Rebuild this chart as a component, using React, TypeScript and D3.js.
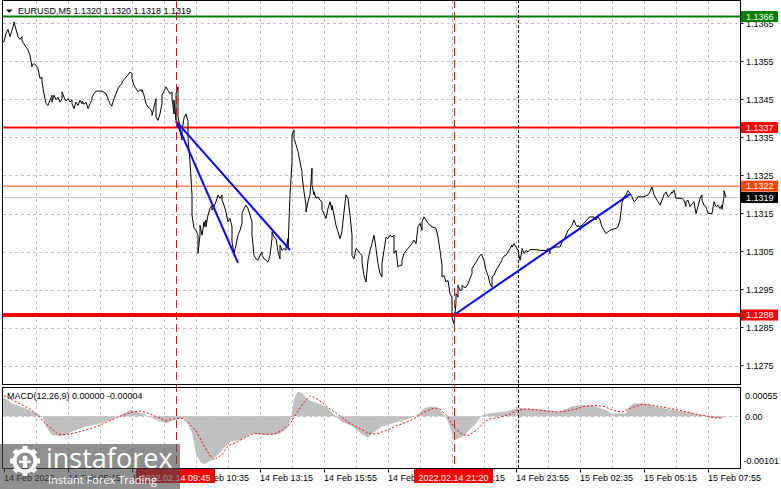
import React from 'react';
import * as d3 from 'd3';

// ---------- DATA ----------
const symbolTitle = 'EURUSD,M5  1.1320 1.1320 1.1318 1.1319';
const macdTitle = 'MACD(12,26,9) 0.00000 -0.00004';

// close price samples: [bar index, price]
const closeSeries: [number, number][] = [
  [0,1.13602],[1,1.13602],[2,1.13624],[3,1.13634],[4,1.13615],[5,1.13632],[6,1.13650],[6,1.13654],[7,1.13634],[8,1.13615],[9,1.13608],[10,1.13615],[10,1.13604],[12,1.13588],[13,1.13580],[14,1.13566],[15,1.13536],[15,1.13540],[16,1.13544],[17,1.13540],[18,1.13531],[19,1.13505],[20,1.13509],[20,1.13496],[21,1.13465],[22,1.13439],[23,1.13434],[24,1.13448],[25,1.13461],[25,1.13443],[26,1.13461],[27,1.13449],[28,1.13456],[29,1.13443],[30,1.13452],[30,1.13470],[31,1.13456],[32,1.13446],[33,1.13452],[34,1.13443],[35,1.13449],[35,1.13439],[36,1.13426],[37,1.13443],[38,1.13434],[39,1.13448],[40,1.13439],[40,1.13446],[41,1.13437],[42,1.13443],[43,1.13426],[44,1.13439],[45,1.13449],[45,1.13456],[46,1.13465],[47,1.13472],[49,1.13472],[50,1.13472],[52,1.13465],[53,1.13452],[54,1.13439],[55,1.13432],[55,1.13434],[56,1.13452],[57,1.13465],[58,1.13478],[59,1.13487],[60,1.13492],[60,1.13496],[61,1.13502],[62,1.13509],[63,1.13514],[64,1.13522],[65,1.13518],[65,1.13505],[66,1.13487],[67,1.13478],[68,1.13470],[69,1.13476],[70,1.13470],[70,1.13476],[71,1.13461],[72,1.13439],[73,1.13430],[74,1.13426],[75,1.13417],[75,1.13408],[76,1.13430],[77,1.13452],[77,1.13404],[78,1.13395],[79,1.13412],[80,1.13439],[80,1.13461],[81,1.13472],[82,1.13483],[83,1.13474],[84,1.13465],[85,1.13470],[85,1.13452],[86,1.13412],[86,1.13448],[87,1.13395],[87,1.13465],[88,1.13483],[88,1.13404],[89,1.13377],[89,1.13366],[90,1.13344],[90,1.13366],[91,1.13401],[92,1.13412],[93,1.13392],[93,1.13348],[94,1.13286],[95,1.13199],[95,1.13146],[96,1.13111],[97,1.13106],[98,1.13093],[98,1.13045],[99,1.13093],[99,1.13119],[100,1.13093],[101,1.13128],[101,1.13115],[102,1.13133],[102,1.13115],[103,1.13146],[104,1.13163],[105,1.13172],[105,1.13159],[106,1.13168],[107,1.13181],[108,1.13199],[109,1.13190],[110,1.13199],[110,1.13185],[111,1.13172],[112,1.13154],[113,1.13128],[114,1.13137],[115,1.13115],[115,1.13075],[116,1.13045],[117,1.13067],[118,1.13093],[119,1.13106],[120,1.13124],[120,1.13150],[121,1.13163],[122,1.13172],[123,1.13163],[124,1.13146],[125,1.13128],[125,1.13093],[126,1.13040],[127,1.13031],[128,1.13027],[129,1.13040],[130,1.13049],[130,1.13040],[131,1.13031],[132,1.13027],[133,1.13022],[134,1.13040],[135,1.13084],[135,1.13102],[136,1.13088],[137,1.13084],[138,1.13049],[139,1.13031],[139,1.13067],[140,1.13053],[141,1.13058],[142,1.13053],[142,1.13058],[143,1.13084],[143,1.13058],[144,1.13199],[145,1.13286],[145,1.13357],[146,1.13370],[146,1.13348],[147,1.13331],[148,1.13313],[149,1.13286],[150,1.13260],[150,1.13251],[151,1.13207],[152,1.13172],[152,1.13154],[153,1.13181],[154,1.13199],[155,1.13269],[155,1.13225],[156,1.13199],[156,1.13207],[157,1.13190],[158,1.13194],[159,1.13185],[160,1.13181],[160,1.13159],[161,1.13150],[162,1.13137],[163,1.13163],[164,1.13181],[165,1.13159],[165,1.13172],[166,1.13146],[167,1.13119],[168,1.13102],[169,1.13084],[170,1.13102],[170,1.13106],[171,1.13154],[172,1.13199],[173,1.13190],[174,1.13146],[175,1.13093],[175,1.13040],[176,1.13031],[177,1.13058],[178,1.13053],[179,1.13045],[180,1.13040],[180,1.13022],[181,1.12987],[182,1.12970],[183,1.13027],[184,1.13053],[185,1.13071],[186,1.13093],[187,1.13058],[188,1.13018],[189,1.12992],[190,1.12983],[190,1.13018],[191,1.13053],[192,1.13088],[193,1.13084],[194,1.13093],[195,1.13088],[196,1.13093],[196,1.13045],[197,1.13053],[198,1.13009],[199,1.13014],[200,1.13014],[200,1.13027],[201,1.13045],[203,1.13058],[205,1.13071],[206,1.13080],[207,1.13071],[208,1.13115],[209,1.13124],[210,1.13106],[210,1.13128],[211,1.13141],[212,1.13133],[213,1.13124],[214,1.13119],[215,1.13115],[217,1.13111],[218,1.13088],[219,1.13053],[220,1.13014],[220,1.12983],[221,1.12987],[222,1.12970],[223,1.12974],[224,1.12939],[225,1.12930],[225,1.12904],[225,1.12877],[226,1.12860],[227,1.12913],[227,1.12939],[228,1.12930],[228,1.12961],[229,1.12948],[230,1.12948],[230,1.12961],[231,1.12956],[232,1.12956],[233,1.12965],[234,1.12979],[235,1.12992],[235,1.13005],[236,1.13014],[237,1.13022],[238,1.13031],[239,1.13040],[240,1.13043],[240,1.13040],[241,1.13027],[242,1.13001],[243,1.12987],[244,1.12965],[245,1.12956],[245,1.12983],[246,1.12987],[247,1.13001],[248,1.13009],[249,1.13018],[250,1.13027],[250,1.13031],[251,1.13038],[252,1.13040],[253,1.13049],[254,1.13058],[255,1.13067],[255,1.13062],[256,1.13071],[257,1.13062],[258,1.13053],[259,1.13027],[260,1.13053],[260,1.13058],[261,1.13045],[262,1.13053],[263,1.13049],[264,1.13055],[265,1.13055],[267,1.13055],[269,1.13053],[270,1.13053],[272,1.13053],[273,1.13058],[274,1.13045],[274,1.13053],[275,1.13058],[277,1.13062],[279,1.13062],[280,1.13075],[281,1.13080],[283,1.13106],[284,1.13111],[285,1.13119],[286,1.13133],[287,1.13119],[288,1.13115],[288,1.13119],[289,1.13115],[291,1.13124],[293,1.13137],[294,1.13141],[296,1.13141],[297,1.13133],[298,1.13141],[299,1.13133],[300,1.13115],[301,1.13106],[302,1.13097],[303,1.13102],[304,1.13106],[305,1.13108],[307,1.13111],[308,1.13115],[309,1.13133],[310,1.13177],[311,1.13194],[312,1.13199],[313,1.13210],[314,1.13203],[315,1.13194],[316,1.13181],[317,1.13185],[318,1.13194],[320,1.13194],[321,1.13194],[323,1.13199],[324,1.13207],[325,1.13220],[326,1.13199],[327,1.13190],[328,1.13181],[329,1.13172],[330,1.13185],[331,1.13199],[332,1.13207],[333,1.13194],[334,1.13199],[335,1.13207],[335,1.13203],[336,1.13212],[337,1.13190],[339,1.13190],[340,1.13190],[341,1.13185],[342,1.13168],[342,1.13181],[343,1.13185],[344,1.13168],[346,1.13181],[347,1.13150],[348,1.13168],[349,1.13190],[350,1.13199],[350,1.13185],[351,1.13172],[352,1.13168],[353,1.13150],[354,1.13150],[355,1.13150],[356,1.13181],[357,1.13168],[358,1.13172],[359,1.13163],[360,1.13172],[360,1.13161],[361,1.13194],[361,1.13210],[362,1.13192]
];

// MACD main (histogram) samples: [bar, value]
const macdMain: [number, number][] = [
  [0,0.00039],[5,0.00025],[12,0.00015],[17,0.00006],[20,0],[22,-0.00020],[25,-0.00037],[30,-0.00039],[35,-0.00030],[42,-0.00020],[49,-0.00014],[55,-0.00006],[60,0.00004],[64,0.00012],[67,0.00010],[72,0.00002],[77,-0.00007],[82,-0.00014],[85,-0.00009],[89,-0.00004],[92,-0.00007],[95,-0.00033],[97,-0.00072],[99,-0.00089],[101,-0.00093],[105,-0.00086],[109,-0.00071],[114,-0.00050],[119,-0.00046],[125,-0.00034],[132,-0.00037],[139,-0.00034],[143,-0.00021],[145,0.00006],[146,0.00034],[148,0.00048],[150,0.00045],[153,0.00032],[157,0.00026],[162,0.00019],[167,-0.00001],[170,-0.00011],[175,-0.00019],[180,-0.00035],[183,-0.00042],[185,-0.00034],[190,-0.00020],[195,-0.00014],[200,-0.00009],[204,-0.00004],[208,0.00004],[211,0.00015],[214,0.00019],[218,0.00017],[222,-0.00002],[224,-0.00021],[226,-0.00046],[230,-0.00041],[232,-0.00033],[237,-0.00014],[240,0.00002],[244,0.00006],[252,0.00009],[257,0.00015],[260,0.00016],[265,0.00014],[272,0.00012],[279,0.00009],[285,0.00019],[289,0.00022],[295,0.00021],[302,0.00012],[305,0.00005],[312,0.00006],[314,0.00020],[316,0.00025],[321,0.00025],[327,0.00019],[335,0.00012],[344,0.00007],[350,0.00002],[355,-0.00004],[360,-0.00004],[362,0.00000]
];

// MACD signal samples: [bar, value]
const macdSignal: [number, number][] = [
  [1,0.00040],[6,0.00030],[10,0.00022],[14,0.00014],[18,0.00001],[21,-0.00012],[25,-0.00025],[28,-0.00035],[32,-0.00036],[36,-0.00033],[41,-0.00028],[46,-0.00022],[51,-0.00014],[55,-0.00007],[60,0.00001],[65,0.00008],[69,0.00010],[73,0.00006],[78,-0.00002],[82,-0.00009],[86,-0.00005],[90,-0.00004],[93,-0.00012],[97,-0.00028],[100,-0.00051],[104,-0.00077],[106,-0.00085],[110,-0.00075],[113,-0.00058],[117,-0.00051],[121,-0.00043],[126,-0.00033],[131,-0.00035],[136,-0.00035],[140,-0.00028],[144,-0.00015],[147,0.00004],[151,0.00027],[154,0.00040],[157,0.00035],[160,0.00027],[164,0.00014],[169,0.00001],[173,-0.00012],[178,-0.00022],[183,-0.00033],[187,-0.00035],[192,-0.00028],[197,-0.00019],[202,-0.00012],[206,-0.00005],[211,0.00008],[216,0.00016],[219,0.00014],[223,-0.00002],[226,-0.00022],[230,-0.00035],[233,-0.00038],[237,-0.00028],[241,-0.00012],[244,-0.00005],[249,-0.00002],[254,0.00004],[258,0.00012],[263,0.00014],[268,0.00012],[272,0.00010],[277,0.00008],[282,0.00010],[287,0.00014],[291,0.00019],[296,0.00021],[301,0.00019],[305,0.00012],[310,0.00008],[315,0.00017],[320,0.00023],[324,0.00022],[329,0.00019],[334,0.00015],[338,0.00012],[343,0.00008],[348,0.00003],[353,0.00000],[357,-0.00003],[360,-0.00004]
];

const priceTicks = [1.1365, 1.1355, 1.1345, 1.1335, 1.1325, 1.1315, 1.1305, 1.1295, 1.1285, 1.1275];
const macdTicks = [0.00055, 0.0, -0.00101];
const macdTickLabels = ['0.00055', '0.00', '-0.00101'];

const timeLabelBars = [1, 33, 65, 97, 129, 161, 193, 225, 257, 289, 321, 353];
const timeLabels = ['14 Feb 2022', '14 Feb 05:15', '14 Feb 07:55', '14 Feb 10:35', '14 Feb 13:15', '14 Feb 15:55', '14 Feb 18:35', '14 Feb 21:15', '14 Feb 23:55', '15 Feb 02:35', '15 Feb 05:15', '15 Feb 07:55'];
const gridBars = d3.range(17, 354, 16);

// horizontal levels
const levelPrices = [1.13668, 1.13376, 1.13222, 1.13192, 1.12883];
// vertical markers
const markerBars = [87, 226];
const markerLabels = ['2022.02.14 09:45', '2022.02.14 21:20'];
const daySeparatorBar = 258;

// trend lines [bar, price]
const trendLines: [number, number][][] = [
  [[87, 1.13393], [118, 1.13020]],
  [[87, 1.13393], [144, 1.13054]],
  [[226, 1.12883], [314, 1.13201]],
];

// ---------- STYLES ----------
const levelStyle = [
  { color: '#008000', width: 2, box: '#008000', text: '#ffffff' },
  { color: '#ff0000', width: 2, box: '#ff0000', text: '#ffffff' },
  { color: '#ff4500', width: 1, box: '#ff4500', text: '#ffffff' },
  { color: '#c0c0c0', width: 1, box: '#000000', text: '#ffffff' },
  { color: '#ff0000', width: 4, box: '#ff0000', text: '#ffffff' },
];
const FONT = '"Liberation Sans", Arial, sans-serif';

const truncFmt = (v: number) => (Math.floor(v * 10000 + 1e-6) / 10000).toFixed(4);

export default function App() {
  const L = 2.5, R = 740.5, MT = 0.5, MB = 384.5, ST = 387.5, SB = 468.5;
  const x = d3.scaleLinear().domain([0, 1]).range([2, 4]);
  const y = d3.scaleLinear().domain([1.1275, 1.1365]).range([365.6, 23.4]);
  const ym = d3.scaleLinear().domain([-0.00101, 0.00055]).range([468, 388]);

  const priceLine = d3.line<[number, number]>().x(d => x(d[0])).y(d => y(d[1]));
  const histArea = d3.area<[number, number]>().x(d => x(d[0])).y0(ym(0)).y1(d => ym(d[1]));
  const sigLine = d3.line<[number, number]>().x(d => x(d[0])).y(d => ym(d[1]));

  return (
    <svg width={781} height={489} style={{ position: 'fixed', left: 0, top: 0, background: '#fff' }} fontFamily={FONT}>
      <rect x={0} y={0} width={781} height={489} fill="#ffffff" />
      <defs>
        <clipPath id="mainClip"><rect x={L} y={MT} width={R - L} height={MB - MT} /></clipPath>
        <clipPath id="subClip"><rect x={L} y={ST} width={R - L} height={SB - ST} /></clipPath>
      </defs>

      {/* grid main */}
      <g stroke="#c0c0c0" strokeWidth={1} strokeDasharray="3,3" shapeRendering="crispEdges">
        {priceTicks.map((t, i) => (
          <line key={'h' + i} x1={L} x2={R} y1={Math.round(y(t)) + 0.5} y2={Math.round(y(t)) + 0.5} />
        ))}
        {gridBars.map((b, i) => (
          <line key={'v' + i} x1={Math.round(x(b)) + 0.5} x2={Math.round(x(b)) + 0.5} y1={MT} y2={MB} />
        ))}
        {gridBars.map((b, i) => (
          <line key={'vs' + i} x1={Math.round(x(b)) + 0.5} x2={Math.round(x(b)) + 0.5} y1={ST} y2={SB} />
        ))}
        <line x1={L} x2={R} y1={Math.round(ym(0)) + 0.5} y2={Math.round(ym(0)) + 0.5} />
      </g>

      {/* horizontal levels */}
      <g clipPath="url(#mainClip)">
        {levelPrices.map((p, i) => (
          <line key={'lv' + i} x1={L} x2={R} y1={y(p)} y2={y(p)} stroke={levelStyle[i].color} strokeWidth={levelStyle[i].width} />
        ))}
        {/* price line */}
        <path d={priceLine(closeSeries) || ''} fill="none" stroke="#000" strokeWidth={1} />
        {/* trend lines */}
        {trendLines.map((t, i) => (
          <line key={'tl' + i} x1={x(t[0][0])} y1={y(t[0][1])} x2={x(t[1][0])} y2={y(t[1][1])} stroke="#0000ff" strokeWidth={2} />
        ))}
      </g>

      {/* MACD */}
      <g clipPath="url(#subClip)">
        <path d={histArea(macdMain) || ''} fill="#c0c0c0" stroke="none" />
        <path d={sigLine(macdSignal) || ''} fill="none" stroke="#ff0000" strokeWidth={1} strokeDasharray="2,2" />
      </g>

      {/* vertical markers */}
      <line x1={Math.round(x(daySeparatorBar)) + 0.5} x2={Math.round(x(daySeparatorBar)) + 0.5} y1={0} y2={SB} stroke="#000" strokeWidth={1} strokeDasharray="3,2" />
      {markerBars.map((b, i) => (
        <line key={'mk' + i} x1={Math.round(x(b)) + 0.5} x2={Math.round(x(b)) + 0.5} y1={0} y2={SB} stroke="#ff0000" strokeWidth={1} strokeDasharray="8,4" />
      ))}

      {/* frames */}
      <g fill="none" stroke="#000" strokeWidth={1} shapeRendering="crispEdges">
        <rect x={L} y={MT} width={R - L} height={MB - MT} />
        <rect x={L} y={ST} width={R - L} height={SB - ST} />
      </g>

      {/* titles */}
      <polygon points="6,9.5 12.5,9.5 9.25,12.8" fill="#000" />
      <text x={18} y={13.5} fontSize={9} fill="#000">{symbolTitle}</text>
      <text x={7} y={399} fontSize={9} fill="#000">{macdTitle}</text>

      {/* price axis */}
      {priceTicks.map((t, i) => (
        <g key={'pt' + i}>
          <line x1={R} x2={R + 3} y1={y(t)} y2={y(t)} stroke="#000" />
          <text x={746} y={y(t) + 3.3} fontSize={9} fill="#000">{t.toFixed(4)}</text>
        </g>
      ))}
      {macdTicks.map((t, i) => (
        <text key={'mt' + i} x={i === 2 ? 743.5 : 745} y={i === 0 ? 399 : i === 1 ? ym(t) + 3.5 : 464} fontSize={9} fill="#000">{macdTickLabels[i]}</text>
      ))}

      {/* level boxes */}
      {levelPrices.map((p, i) => (
        <g key={'lb' + i}>
          <rect x={741} y={y(p) - 5.5} width={37} height={11} fill={levelStyle[i].box} />
          <text x={746} y={y(p) + 3.3} fontSize={9} fill={levelStyle[i].text}>{truncFmt(p)}</text>
        </g>
      ))}

      {/* time axis */}
      {timeLabelBars.map((b, i) => (
        <g key={'tx' + i}>
          <line x1={Math.round(x(b)) + 0.5} x2={Math.round(x(b)) + 0.5} y1={SB} y2={SB + 4} stroke="#000" />
          <text x={x(b)} y={481} fontSize={9} fill="#000">{timeLabels[i]}</text>
        </g>
      ))}
      {markerBars.map((b, i) => (
        <g key={'mb' + i}>
          <rect x={x(b) - 40} y={469} width={79} height={14} fill="#ff0000" />
          <text x={x(b) - 0.5} y={480.5} fontSize={9} fill="#fff" textAnchor="middle">{markerLabels[i]}</text>
        </g>
      ))}

      {/* watermark */}
      <g>
        <rect x={0} y={444} width={180} height={45} fill="#4a4a4a" opacity={0.62} />
        <g transform="translate(25,461)" fill="#fff">
          {d3.range(8).map(k => (
            <rect key={'gt' + k} x={-2.5} y={-15} width={5} height={6} transform={`rotate(${k * 45})`} />
          ))}
          <circle r={10.5} fill="none" stroke="#fff" strokeWidth={4} />
          <circle cx={0} cy={-3} r={2.5} />
          <rect x={-2} y={0} width={4} height={7} />
          <rect x={-6} y={-0.5} width={12} height={2.5} />
        </g>
        <text x={46} y={468} fontSize={27} fill="#fff" fontFamily='"Open Sans", sans-serif' style={{ fontWeight: 400 }}>instaforex</text>
        <text x={48} y={484} fontSize={11} fill="#fff" fontFamily='"Open Sans", sans-serif'>Instant Forex Trading</text>
      </g>
    </svg>
  );
}
